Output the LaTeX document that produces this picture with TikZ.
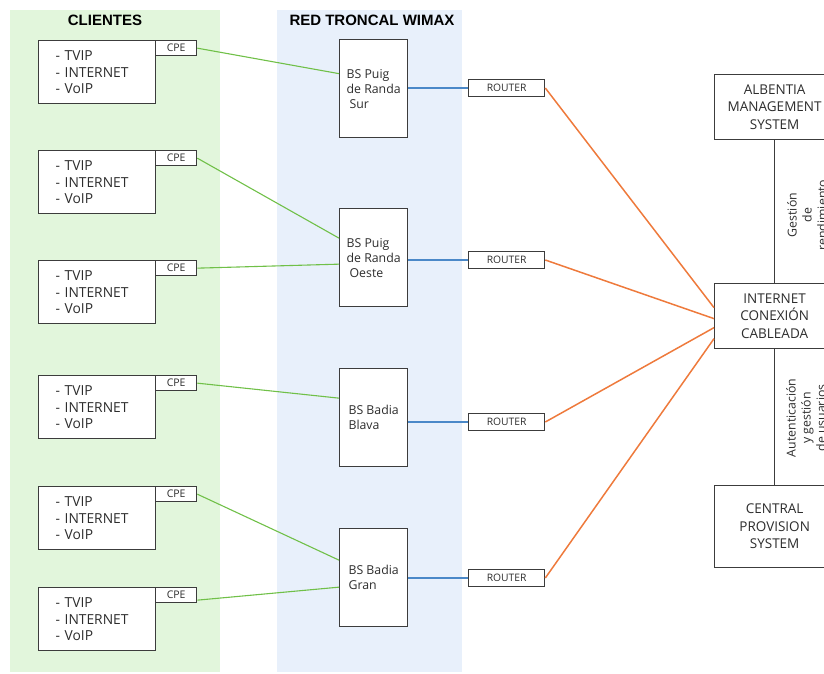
\documentclass[tikz,border=0pt]{standalone}
\usepackage{fontspec}
\setmainfont{Open Sans}
\newfontfamily\titlefont{Liberation Sans}
\usetikzlibrary{positioning,calc}

\definecolor{panelgreen}{RGB}{226,246,220}
\definecolor{panelblue}{RGB}{232,240,251}
\definecolor{linkgreen}{RGB}{112,192,72}
\definecolor{linkblue}{RGB}{74,136,200}
\definecolor{linkorange}{RGB}{238,122,60}
\definecolor{boxline}{RGB}{60,60,60}
\definecolor{boxtext}{RGB}{45,45,45}

\tikzset{
  box/.style={draw=boxline, line width=1.3pt, fill=white, inner sep=0pt, anchor=north west,
    text=boxtext},
  client/.style={box, minimum width=117pt, minimum height=63pt, align=left,
    font=\fontsize{13.8}{16.7}\selectfont, text width=101pt},
  cpebox/.style={box, minimum width=41pt, minimum height=15pt, font=\fontsize{10.5}{11}\selectfont},
  basestation/.style={box, minimum width=68pt, minimum height=98pt, align=left,
    font=\fontsize{12.3}{15}\selectfont},
  routerbox/.style={box, anchor=west, minimum width=76pt, minimum height=17pt,
    font=\fontsize{10.3}{11}\selectfont},
  sysbox/.style={box, minimum width=120pt, align=center, font=\fontsize{13.5}{17.5}\selectfont},
  title/.style={font=\titlefont\bfseries\fontsize{15}{17}\selectfont},
  vlabel/.style={rotate=90, align=center, text=boxtext, font=\fontsize{12.3}{15}\selectfont},
  wireless/.style={draw=linkgreen, line width=1.1pt},
  bsrouter/.style={draw=linkblue, line width=1.1pt},
  uplink/.style={draw=linkorange, line width=1.5pt},
  mgmt/.style={draw=boxline, line width=1.3pt}
}

\begin{document}
\begin{tikzpicture}[x=1pt, y=-1pt]
\useasboundingbox (0,0) rectangle (824,674);
\clip (0,0) rectangle (824,674);

% background panels
\fill[panelgreen] (10,10) rectangle (220,672);
\fill[panelblue] (277,10) rectangle (462,672);
\node[title] (tclientes) at (105,20) {CLIENTES};
\node[title] (twimax) at (372,20) {RED TRONCAL WIMAX};

% client premises
\foreach \i/\y in {1/40, 2/150, 3/260, 4/375, 5/486, 6/587} {
  \node[client] (cl\i) at (38,\y) {\hspace*{9pt}- TVIP\\\hspace*{9pt}- INTERNET\\\hspace*{9pt}- VoIP};
  \node[cpebox] (cpe\i) at (155,\y) {CPE};
}

% base stations
\node[basestation] (bs1) at (339,39)  {BS Puig\\de Randa\\\hspace*{3pt}Sur};
\node[basestation] (bs2) at (339,208) {BS Puig\\de Randa\\\hspace*{3pt}Oeste};
\node[basestation] (bs3) at (339,368) {BS Badia\\Blava};
\node[basestation] (bs4) at (339,528) {BS Badia\\Gran};

% routers
\node[routerbox] (r1) at (468,88)  {ROUTER};
\node[routerbox] (r2) at (468,260) {ROUTER};
\node[routerbox] (r3) at (468,422) {ROUTER};
\node[routerbox] (r4) at (468,578) {ROUTER};

% core systems
\node[sysbox, minimum height=65pt] (ams) at (714,74) {ALBENTIA\\MANAGEMENT\\SYSTEM};
\node[sysbox, minimum height=65pt] (inet) at (714,283) {INTERNET\\CONEXIÓN\\CABLEADA};
\node[sysbox, minimum height=82pt] (cps) at (714,485) {CENTRAL\\PROVISION\\SYSTEM};

% wireless links CPE -> base station
\draw[wireless] (cpe1.east) -- ([yshift=15pt]bs1.west);
\draw[wireless] (cpe2.east) -- ([yshift=19.5pt]bs2.west);
\draw[wireless] (cpe3.east) -- ([yshift=-6.5pt]bs2.west);
\draw[wireless] (cpe4.east) -- ([yshift=19.5pt]bs3.west);
\draw[wireless] (cpe5.east) -- ([yshift=17.5pt]bs4.west);
\draw[wireless] ([yshift=-5pt]cpe6.east) -- ([yshift=-9.5pt]bs4.west);

% base station -> router
\foreach \i in {1,2,3,4}
  \draw[bsrouter] (r\i.west -| bs\i.east) -- (r\i.west);

% router -> internet
\draw[uplink] (r1.east) -- ([yshift=8.5pt]inet.west);
\draw[uplink] (r2.east) -- ([yshift=-2.5pt]inet.west);
\draw[uplink] (r3.east) -- ([yshift=-11.5pt]inet.west);
\draw[uplink] (r4.east) -- ([yshift=-22.5pt]inet.west);

% management links
\draw[mgmt] (ams.south) -- (inet.north);
\draw[mgmt] (inet.south) -- (cps.north);
\node[vlabel] (lg) at (807,215) {Gestión\\de\\rendimiento};
\node[vlabel] (la) at (806,418) {Autenticación\\y gestión\\de usuarios};
\end{tikzpicture}
\end{document}
